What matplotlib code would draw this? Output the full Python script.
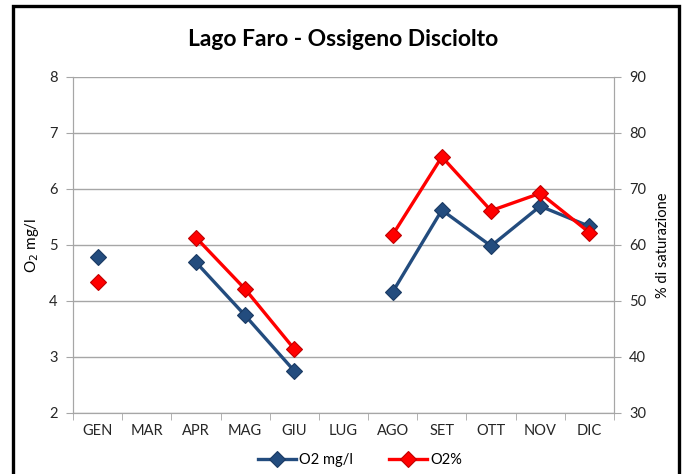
import numpy as np
import matplotlib
matplotlib.use("Agg")
import matplotlib.pyplot as plt
from matplotlib.patches import Rectangle

months = ['GEN', 'MAR', 'APR', 'MAG', 'GIU', 'LUG', 'AGO', 'SET', 'OTT', 'NOV', 'DIC']
o2_mgl = [4.79, np.nan, 4.69, 3.74, 2.75, np.nan, 4.16, 5.62, 4.98, 5.69, 5.33]
o2_pct = [53.3, np.nan, 61.3, 52.1, 41.4, np.nan, 61.8, 75.7, 66.1, 69.2, 62.2]

plt.rcParams['font.family'] = ['Lato', 'DejaVu Sans']

blue = '#234C7E'
red = '#FF0000'
grey = '#A6A6A6'

def main():
	fig = plt.figure(figsize=(6.88, 4.74), dpi=100)
	ax = fig.add_axes([73/688, 1-413/474, 541/688, 336.3/474])
	ax2 = ax.twinx()

	x = np.arange(len(months))
	l1, = ax.plot(x, o2_mgl, color=blue, lw=2.4, marker='D', ms=8.5,
		mfc=blue, mec='#1A3A63', mew=0.8, label='O2 mg/l', zorder=3)
	l2, = ax2.plot(x, o2_pct, color=red, lw=2.4, marker='D', ms=8.5,
		mfc=red, mec='#C00000', mew=0.8, label='O2%', zorder=3)

	ax.set_ylim(2, 8)
	ax.set_yticks(range(2, 9))
	ax2.set_ylim(30, 90)
	ax2.set_yticks(range(30, 91, 10))
	ax.set_xlim(-0.5, len(months) - 0.5)
	ax.set_xticks(x)
	ax.set_xticklabels(months)
	# ticks sit between the months
	ax.set_xticks(np.arange(-0.5, len(months), 1), minor=True)
	ax.tick_params(axis='x', which='major', length=0, pad=8)
	ax.tick_params(axis='x', which='minor', length=5, color=grey)
	ax.tick_params(axis='y', length=5, color=grey, pad=6)
	ax2.tick_params(axis='y', length=5, color=grey, pad=6)
	for lab in ax.get_xticklabels() + ax.get_yticklabels() + ax2.get_yticklabels():
		lab.set_fontsize(10.5)
		lab.set_color('#262626')

	ax.grid(axis='y', color=grey, lw=1)
	ax.set_axisbelow(True)
	for a in (ax, ax2):
		a.spines['top'].set_visible(False)
		for s in ('left', 'right', 'bottom'):
			a.spines[s].set_color(grey)
	ax2.set_zorder(ax.get_zorder() + 1)

	ax.set_ylabel('O$_2$ mg/l', fontsize=11, labelpad=6)
	ax2.set_ylabel('% di saturazione', fontsize=10.5, labelpad=7)

	fig.text(343/688, 1-40/474, 'Lago Faro - Ossigeno Disciolto', ha='center', va='center',
		fontsize=16.5, fontweight='bold')

	fig.legend([l1, l2], ['O2 mg/l', 'O2%'], loc='center', bbox_to_anchor=(360/688, 1-460/474),
		ncol=2, frameon=False, fontsize=10.5, handlelength=2.6, columnspacing=2.5,
		handletextpad=0.2)

	# black frame round the chart, open at the bottom
	fig.patches.append(Rectangle((12.5/688, -0.1), 666/688, 1.1 - 6.5/474,
		transform=fig.transFigure, fill=False, ec='black', lw=2.4))

	fig.savefig('out.png', dpi=100)

if __name__ == "__main__":
	main()
